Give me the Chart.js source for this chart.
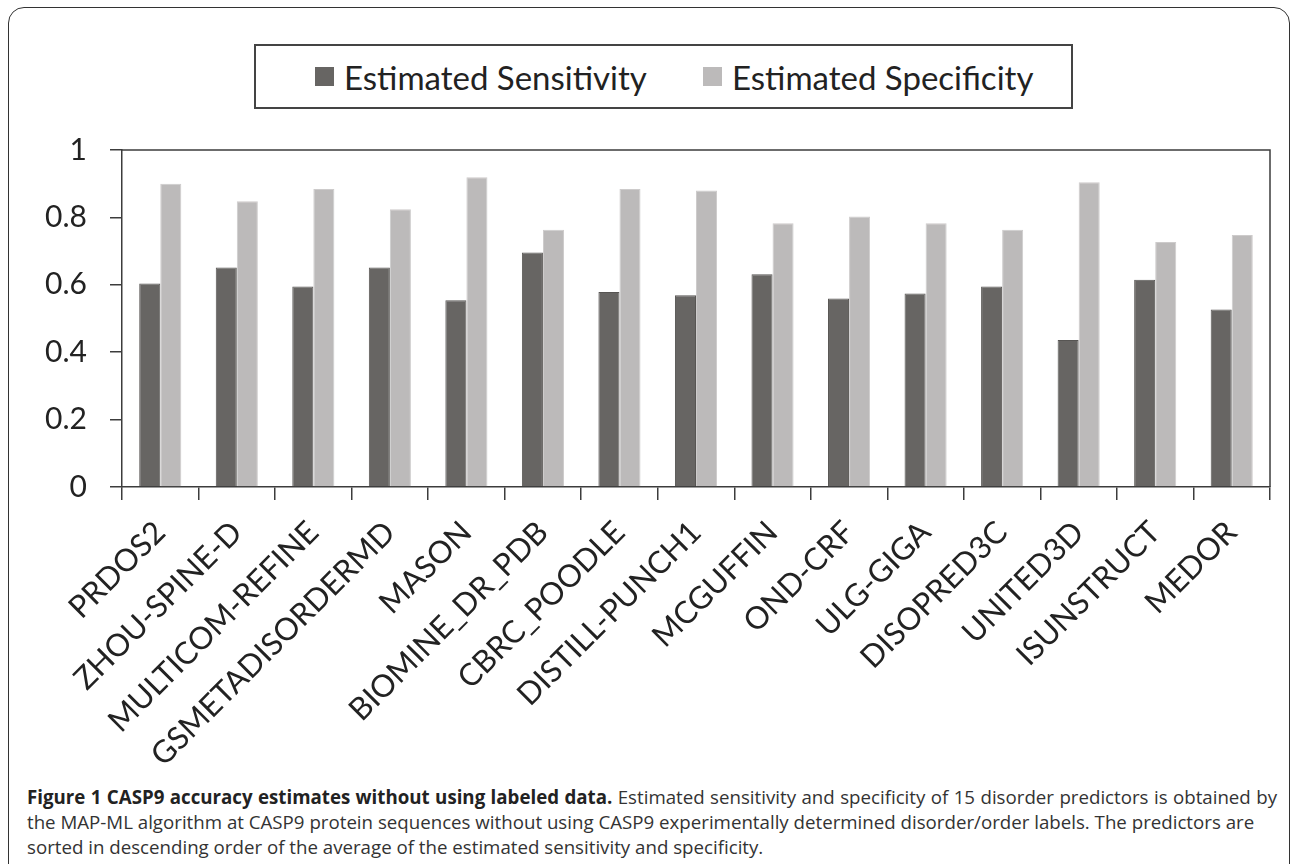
<!DOCTYPE html>
<html>
<head>
<meta charset="utf-8">
<script src="https://cdn.jsdelivr.net/npm/chart.js@4.4.0/dist/chart.umd.min.js"></script>
<style>
  body { margin: 0; width: 1292px; height: 864px; overflow: hidden; background: #fff; position: relative; font-family: Lato, sans-serif; }
  #frame { position: absolute; left: 8px; top: 7px; width: 1282px; height: 920px; border: 1.5px solid #333; border-radius: 16px; box-sizing: border-box; }
  #wrap { position: absolute; left: 0; top: 0; width: 1292px; height: 780px; }
  #legend { position: absolute; left: 254px; top: 44px; width: 819px; height: 65px; border: 2px solid #444; box-sizing: border-box; background: #fff; }
  .item { position: absolute; top: 0; height: 61px; display: flex; align-items: center; font-size: 33px; color: #222; white-space: nowrap; }
  .sw { width: 19px; height: 19px; margin-right: 10px; }
  #caption { position: absolute; left: 27px; top: 784px; width: 1250px; font-family: "Open Sans", sans-serif; font-size: 18.7px; line-height: 25px; color: #333; white-space: nowrap; }
  #caption div.j { text-align: justify; text-align-last: justify; }
  #caption b { color: #222; }
</style>
</head>
<body>
<div id="frame"></div>
<div id="wrap"><canvas id="casp" width="1292" height="780"></canvas></div>
<div id="legend"></div>
<div id="caption">
  <div class="j"><b>Figure 1 CASP9 accuracy estimates without using labeled data.</b> Estimated sensitivity and specificity of 15 disorder predictors is obtained by</div>
  <div>the MAP-ML algorithm at CASP9 protein sequences without using CASP9 experimentally determined disorder/order labels. The predictors are</div>
  <div>sorted in descending order of the average of the estimated sensitivity and specificity.</div>
</div>
<script>
// predictors, as on the x axis
var predictors = ["PRDOS2", "ZHOU-SPINE-D", "MULTICOM-REFINE", "GSMETADISORDERMD", "MASON", "BIOMINE_DR_PDB",
  "CBRC_POODLE", "DISTILL-PUNCH1", "MCGUFFIN", "OND-CRF", "ULG-GIGA", "DISOPRED3C", "UNITED3D", "ISUNSTRUCT", "MEDOR"];
var sensitivity = [0.604, 0.651, 0.595, 0.651, 0.554, 0.696, 0.579, 0.569, 0.631, 0.559, 0.574, 0.595, 0.436, 0.615, 0.527];
var specificity = [0.900, 0.848, 0.884, 0.824, 0.919, 0.763, 0.884, 0.880, 0.783, 0.803, 0.783, 0.763, 0.904, 0.727, 0.748];
var yTicks = [0, 0.2, 0.4, 0.6, 0.8, 1];
var yTickLabels = ["0", "0.2", "0.4", "0.6", "0.8", "1"];

var axisColor = "#3c3c3c";

// box round the plot (top + right side)
var plotBox = {
  id: "plotBox",
  afterDraw: function(chart) {
    var a = chart.chartArea, ctx = chart.ctx;
    ctx.save();
    ctx.strokeStyle = axisColor;
    ctx.lineWidth = 1.5;
    ctx.beginPath();
    ctx.moveTo(a.left, a.top);
    ctx.lineTo(a.right, a.top);
    ctx.lineTo(a.right, a.bottom);
    ctx.stroke();
    ctx.restore();
  }
};

var ctx = document.getElementById("casp");
var myChart = new Chart(ctx, {
  type: "bar",
  data: {
    labels: predictors,
    datasets: [{
      label: "Estimated Sensitivity",
      data: sensitivity,
      backgroundColor: "#676563",
      borderColor: "#575553",
      borderWidth: 1
    }, {
      label: "Estimated Specificity",
      data: specificity,
      backgroundColor: "#bcbaba",
      borderColor: "#cdcbcb",
      borderWidth: 1
    }]
  },
  plugins: [plotBox],
  options: {
    responsive: false,
    animation: false,
    layout: { padding: { top: 150, right: 22, left: 0, bottom: 0 } },
    plugins: {
      legend: { display: false },
      tooltip: { enabled: false }
    },
    datasets: {
      bar: { categoryPercentage: 0.55, barPercentage: 1 }
    },
    scales: {
      x: {
        afterFit: function(scale) { scale.height = 293; },
        grid: { drawOnChartArea: false, tickLength: 13, color: axisColor, lineWidth: 1.5, offset: true },
        border: { color: axisColor, width: 1.5 },
        ticks: {
          autoSkip: false, maxRotation: 45, minRotation: 45, padding: 14,
          color: "#222", font: { family: "Lato", size: 31 }
        }
      },
      y: {
        min: 0, max: 1,
        afterFit: function(scale) { scale.width = 122; },
        afterBuildTicks: function(scale) {
          scale.ticks = yTicks.map(function(v) { return { value: v }; });
        },
        grid: { drawOnChartArea: false, tickLength: 12, color: axisColor, lineWidth: 1.5 },
        border: { color: axisColor, width: 1.5 },
        ticks: {
          padding: 23, color: "#222", font: { family: "Lato", size: 30 },
          callback: function(v) { return yTickLabels[yTicks.indexOf(v)]; }
        }
      }
    }
  }
});

// legend box built from the datasets
var legend = document.getElementById("legend");
var legendLeft = [59, 447];
myChart.data.datasets.forEach(function(ds, i) {
  var item = document.createElement("div");
  item.className = "item";
  item.style.left = legendLeft[i] + "px";
  item.innerHTML = '<span class="sw" style="background:' + ds.backgroundColor + '"></span>' + ds.label;
  legend.appendChild(item);
});
</script>
</body>
</html>
